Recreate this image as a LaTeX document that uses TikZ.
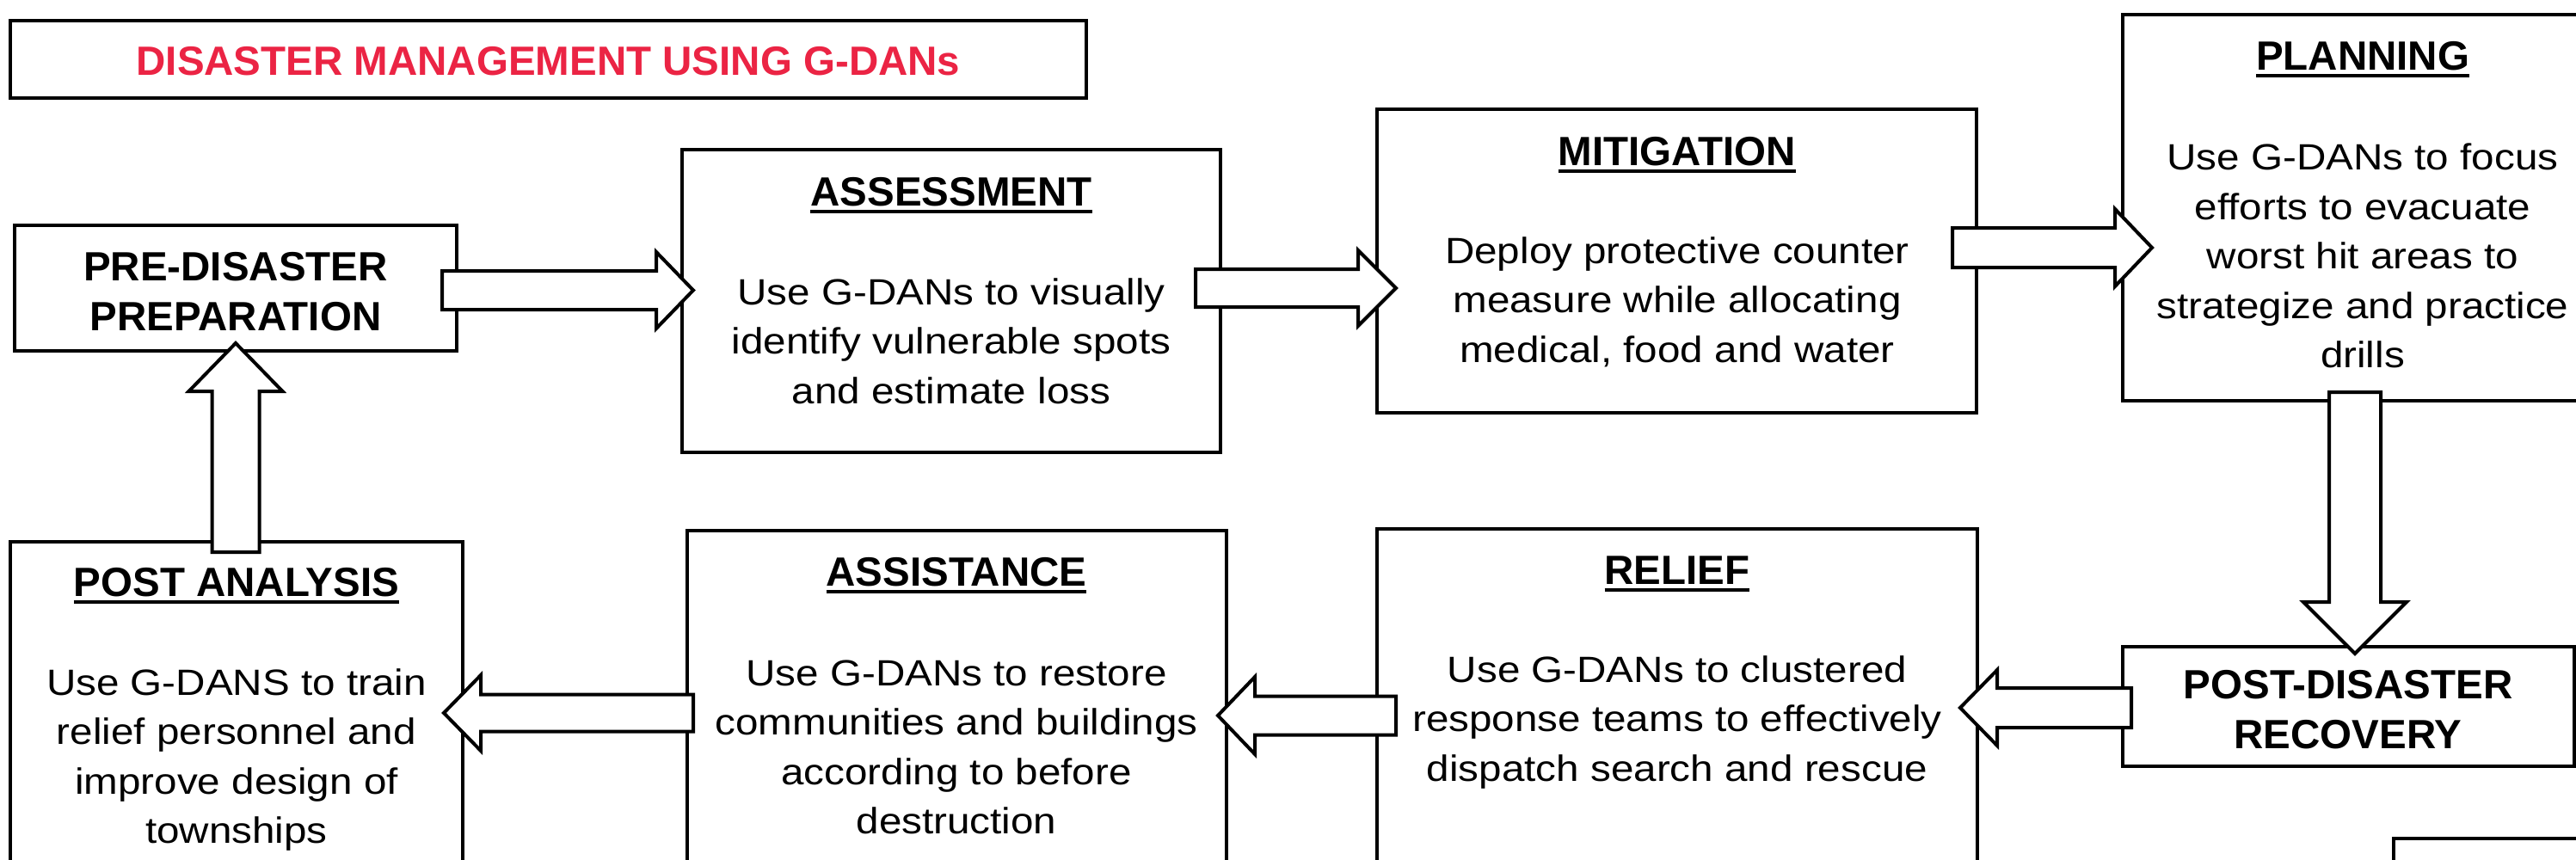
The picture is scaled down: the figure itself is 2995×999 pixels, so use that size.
\documentclass[tikz,border=0pt]{standalone}
\usepackage{fontspec}
\setmainfont{Liberation Sans}
\newfontfamily\widesans[FakeStretch=1.12]{Liberation Sans}
\usetikzlibrary{calc}
\definecolor{titlered}{RGB}{235,36,68}

% underlined heading
\newcommand\hdr[1]{\setbox0\hbox{#1}\rlap{\rule[-8.5pt]{\wd0}{4pt}}\box0}
% centred multi-line text whose baseline is the first line
\newcommand\bodytext[1]{\parbox[t]{900pt}{\centering\widesans\fontsize{42.5}{57.5}\selectfont #1}}
\newcommand\boldtext[1]{\parbox[t]{1200pt}{\centering\fontsize{47.5}{58}\selectfont\bfseries #1}}
\newcommand\headtext[1]{\fontsize{47.5}{57.5}\selectfont\bfseries\hdr{#1}}

\tikzset{
  box/.style={draw, line width=4pt, fill=white, inner sep=0pt},
  lbl/.style={anchor=base, inner sep=0pt},
  barrow/.style n args={3}{draw, fill=white, line width=4pt, miter limit=10,
    to path={
      ($(\tikztostart)!#1pt!90:(\tikztotarget)$)
      -- ($(\tikztotarget)!#3pt!(\tikztostart)!#1pt!-90:(\tikztostart)$)
      -- ($(\tikztotarget)!#3pt!(\tikztostart)!#2pt!-90:(\tikztostart)$)
      -- (\tikztotarget)
      -- ($(\tikztotarget)!#3pt!(\tikztostart)!#2pt!90:(\tikztostart)$)
      -- ($(\tikztotarget)!#3pt!(\tikztostart)!#1pt!90:(\tikztostart)$)
      -- ($(\tikztostart)!#1pt!-90:(\tikztotarget)$) -- cycle}}
}

\begin{document}
\begin{tikzpicture}[x=1pt, y=-1pt]
\useasboundingbox (0,0) rectangle (2995,999);
\clip (0,0) rectangle (2995,999);
\fill[white] (0,0) rectangle (2995,999);

% boxes
\node[box, minimum width=1251pt, minimum height=90pt] (title) at (637.5,69) {};
\node[box, minimum width=514pt, minimum height=146pt] (pre) at (274,335) {};
\node[box, minimum width=626pt, minimum height=352pt] (ass) at (1106,350) {};
\node[box, minimum width=697pt, minimum height=353pt] (mit) at (1949.5,303.5) {};
\node[box, minimum width=562pt, minimum height=449pt] (plan) at (2749,241.5) {};
\node[box, minimum width=525pt, minimum height=139pt] (postdis) at (2730.5,821.5) {};
\node[box, minimum width=698pt, minimum height=435pt] (relief) at (1950,832.5) {};
\node[box, minimum width=627pt, minimum height=433pt] (assist) at (1112.5,833.5) {};
\node[box, minimum width=526pt, minimum height=420pt] (postan) at (275,840) {};
\node[box, minimum width=267pt, minimum height=75pt] (extra) at (2916.5,1012.5) {};

% texts
\node[lbl, text=titlered] (ttl) at (637.5,87.5) {\boldtext{DISASTER MANAGEMENT USING G-DANs}};
\node[lbl] (pret) at (274,326.5) {\boldtext{PRE-DISASTER\\PREPARATION}};
\node[lbl] (assh) at (1106,239) {\headtext{ASSESSMENT}};
\node[lbl] (asst) at (1106,354) {\bodytext{Use G-DANs to visually\\identify vulnerable spots\\and estimate loss}};
\node[lbl] (mith) at (1950,192) {\headtext{MITIGATION}};
\node[lbl] (mitt) at (1950,306) {\bodytext{Deploy protective counter\\measure while allocating\\medical, food and water}};
\node[lbl] (planh) at (2747,81.4) {\headtext{PLANNING}};
\node[lbl] (plant) at (2747,197.5) {\bodytext{Use G-DANs to focus\\efforts to evacuate\\worst hit areas to\\strategize and practice\\drills}};
\node[lbl] (pdt) at (2730,812) {\boldtext{POST-DISASTER\\RECOVERY}};
\node[lbl] (relh) at (1950,679) {\headtext{RELIEF}};
\node[lbl] (relt) at (1950,793) {\bodytext{Use G-DANs to clustered\\response teams to effectively\\dispatch search and rescue}};
\node[lbl] (asih) at (1112,681) {\headtext{ASSISTANCE}};
\node[lbl] (asit) at (1112,797) {\bodytext{Use G-DANs to restore\\communities and buildings\\according to before\\destruction}};
\node[lbl] (panh) at (275,693.5) {\headtext{POST ANALYSIS}};
\node[lbl] (pant) at (275,808) {\bodytext{Use G-DANS to train\\relief personnel and\\improve design of\\townships}};

% block arrows between the stages
\coordinate (a1s) at ($(pre.east)+(-19,2.5)$);
\coordinate (a1t) at ($(ass.west |- a1s)+(15,0)$);
\coordinate (a2s) at ($(ass.east)+(-31,-15)$);
\coordinate (a2t) at ($(mit.west |- a2s)+(24,0)$);
\coordinate (a3s) at ($(mit.east)+(-30,-15.5)$);
\coordinate (a3t) at ($(plan.west |- a3s)+(36,0)$);
\coordinate (a4s) at ($(plan.south)+(-11,-12)$);
\coordinate (a4t) at ($(a4s |- postdis.north)+(0,10)$);
\coordinate (a5s) at ($(postdis.west)+(12,1.5)$);
\coordinate (a5t) at ($(relief.east |- a5s)+(-22,0)$);
\coordinate (a6s) at ($(relief.west |- 0,832)+(24,0)$);
\coordinate (a6t) at ($(assist.east |- a6s)+(-12,0)$);
\coordinate (a7s) at ($(assist.west |- 0,829)+(9,0)$);
\coordinate (a7t) at ($(postan.east |- a7s)+(-24,0)$);
\coordinate (a8s) at ($(postan.north)+(-1,14)$);
\coordinate (a8t) at ($(a8s |- pre.south)+(0,-11)$);

\draw[barrow={22.5}{44.5}{43}] (a1s) to (a1t);
\draw[barrow={22}{44}{44}] (a2s) to (a2t);
\draw[barrow={23}{45}{43}] (a3s) to (a3t);
\draw[barrow={30}{60}{60}] (a4s) to (a4t);
\draw[barrow={23}{44}{43}] (a5s) to (a5t);
\draw[barrow={22.5}{45}{43}] (a6s) to (a6t);
\draw[barrow={21.5}{44}{43}] (a7s) to (a7t);
\draw[barrow={27.5}{54.5}{56}] (a8s) to (a8t);
\end{tikzpicture}
\end{document}
